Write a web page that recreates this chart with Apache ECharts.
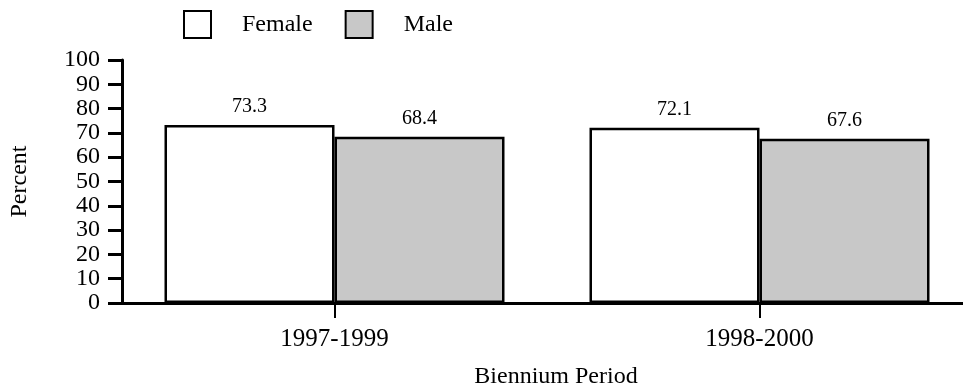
<!DOCTYPE html>
<html>
<head>
<meta charset="utf-8">
<script src="https://cdn.jsdelivr.net/npm/echarts@6/dist/echarts.min.js"></script>
<style>
  html, body { margin: 0; padding: 0; background: #fff; }
  #chart { width: 963px; height: 388px; }
</style>
</head>
<body>
<div id="chart"></div>
<script>
// Share of students by biennium period, split by sex
const periods = ['1997-1999', '1998-2000'];
const female = [73.3, 72.1];
const male = [68.4, 67.6];
const yTicks = [0, 10, 20, 30, 40, 50, 60, 70, 80, 90, 100];

const FONT = '"Liberation Serif", "Times New Roman", serif';

const chart = echarts.init(document.getElementById('chart'));

chart.setOption({
  animation: false,
  backgroundColor: '#ffffff',
  textStyle: { fontFamily: FONT, color: '#000' },
  legend: {
    left: 183,
    top: 10,
    padding: 0,
    itemWidth: 27,
    itemHeight: 27,
    itemGap: 32,
    icon: 'rect',
    textStyle: { fontFamily: FONT, fontSize: 24, color: '#000', padding: [0, 0, 0, 26] },
    data: ['Female', 'Male']
  },
  grid: { left: 122, right: -9, top: 60, bottom: 85, containLabel: false, outerBoundsMode: 'none' },
  xAxis: {
    type: 'category',
    z: 5,
    data: periods,
    name: 'Biennium Period',
    nameLocation: 'middle',
    nameGap: 62,
    nameTextStyle: { fontFamily: FONT, fontSize: 24, color: '#000', padding: [0, 0, 0, 18] },
    axisLine: { lineStyle: { color: '#000', width: 3 } },
    axisTick: { show: true, alignWithLabel: true, length: 15, lineStyle: { color: '#000', width: 2 } },
    axisLabel: { margin: 24, fontFamily: FONT, fontSize: 25, color: '#000' }
  },
  yAxis: {
    type: 'value',
    z: 5,
    min: yTicks[0],
    max: yTicks[yTicks.length - 1],
    interval: yTicks[1] - yTicks[0],
    name: 'Percent',
    nameLocation: 'middle',
    nameGap: 90,
    nameTextStyle: { fontFamily: FONT, fontSize: 24, color: '#000' },
    axisLine: { show: true, lineStyle: { color: '#000', width: 3 } },
    axisTick: { show: true, length: 14, lineStyle: { color: '#000', width: 3 } },
    axisLabel: { margin: 22, fontFamily: FONT, fontSize: 24, color: '#000' },
    splitLine: { show: false }
  },
  series: [
    {
      name: 'Female',
      type: 'bar',
      data: female,
      barGap: '0%',
      barCategoryGap: '20%',
      itemStyle: { color: '#ffffff', borderColor: '#000', borderWidth: 2.5 },
      label: { show: true, position: 'top', distance: 8, fontFamily: FONT, fontSize: 20, color: '#000' }
    },
    {
      name: 'Male',
      type: 'bar',
      data: male,
      barGap: '0%',
      barCategoryGap: '20%',
      itemStyle: { color: '#c8c8c8', borderColor: '#000', borderWidth: 2.5 },
      label: { show: true, position: 'top', distance: 8, fontFamily: FONT, fontSize: 20, color: '#000' }
    }
  ]
});
</script>
</body>
</html>
